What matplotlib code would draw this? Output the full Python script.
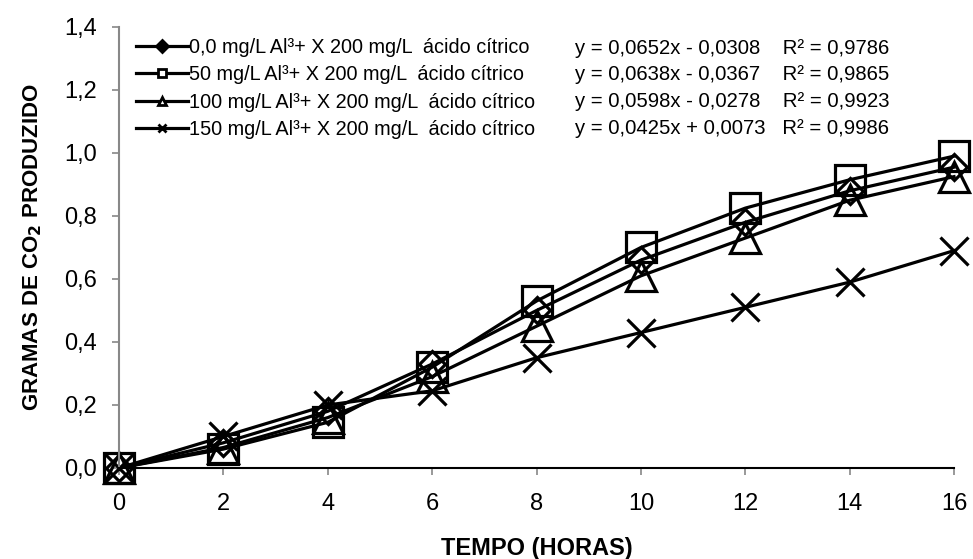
import matplotlib.pyplot as plt
from matplotlib.lines import Line2D
from matplotlib.ticker import FuncFormatter

plt.rcParams['font.family'] = ['Liberation Sans', 'DejaVu Sans']

# horas de fermentação
tempo = [0, 2, 4, 6, 8, 10, 12, 14, 16]

# gramas de CO2 produzido por tratamento
co2_0 = [0, 0.08, 0.18, 0.33, 0.50, 0.66, 0.78, 0.88, 0.955]
co2_50 = [0, 0.06, 0.145, 0.32, 0.53, 0.70, 0.825, 0.915, 0.99]
co2_100 = [0, 0.065, 0.16, 0.29, 0.45, 0.61, 0.73, 0.85, 0.925]
co2_150 = [0, 0.10, 0.20, 0.245, 0.35, 0.43, 0.51, 0.59, 0.69]

rotulos = [
    "0,0 mg/L Al³+ X 200 mg/L  ácido cítrico",
    "50 mg/L Al³+ X 200 mg/L  ácido cítrico",
    "100 mg/L Al³+ X 200 mg/L  ácido cítrico",
    "150 mg/L Al³+ X 200 mg/L  ácido cítrico",
]
equacoes = [
    "y = 0,0652x - 0,0308    R² = 0,9786",
    "y = 0,0638x - 0,0367    R² = 0,9865",
    "y = 0,0598x - 0,0278    R² = 0,9923",
    "y = 0,0425x + 0,0073   R² = 0,9986",
]

series = [co2_0, co2_50, co2_100, co2_150]
marcadores = ['D', 's', '^', 'x']
tamanhos = [13, 21, 21, 20]

fig = plt.figure(figsize=(9.73, 5.59), dpi=100)
ax = fig.add_axes([0.1223, 0.1628, 0.8582, 0.7889])

for valores, m, ms in zip(series, marcadores, tamanhos):
    ax.plot(tempo, valores, color='black', lw=2.3, marker=m, ms=ms,
            mfc='none', mec='black', mew=2.3, clip_on=False)

ax.set_xlim(0, 16)
ax.set_ylim(0, 1.4)
ax.set_xticks(tempo)
ax.set_yticks([0, 0.2, 0.4, 0.6, 0.8, 1.0, 1.2, 1.4])
ax.yaxis.set_major_formatter(FuncFormatter(lambda v, p: f"{v:.1f}".replace('.', ',')))
ax.tick_params(labelsize=17, colors='#888888', labelcolor='black',
               length=5, width=1.2)
ax.tick_params(axis='x', pad=13)
ax.tick_params(axis='y', pad=11)

for lado in ['top', 'right']:
    ax.spines[lado].set_visible(False)
ax.spines['left'].set_color('#888888')
ax.spines['left'].set_linewidth(1.5)
ax.spines['bottom'].set_color('black')
ax.spines['bottom'].set_linewidth(1.5)

ax.set_xlabel("TEMPO (HORAS)", fontsize=17, fontweight='bold', labelpad=16)
ax.set_ylabel("GRAMAS DE CO$_\\mathbf{2}$ PRODUZIDO", fontsize=16,
              fontweight='bold', labelpad=14)

# legenda com marcadores pequenos
alcas = []
for m in marcadores:
    face = 'black' if m == 'D' else 'white'
    alcas.append(Line2D([], [], color='black', lw=2.3, marker=m, ms=6,
                        mfc=face, mec='black', mew=2))
fig.legend(alcas, rotulos, loc='upper left',
           bbox_to_anchor=(136 / 973, 1 - 38 / 559),
           frameon=False, fontsize=14.3, handlelength=2.6, handletextpad=0.05,
           labelspacing=0.42, borderpad=0, borderaxespad=0)

for i, eq in enumerate(equacoes):
    fig.text(575 / 973, 1 - (48 + i * 26.7) / 559, eq,
             fontsize=14.6, va='center', ha='left')

fig.savefig("out.png", dpi=100)
